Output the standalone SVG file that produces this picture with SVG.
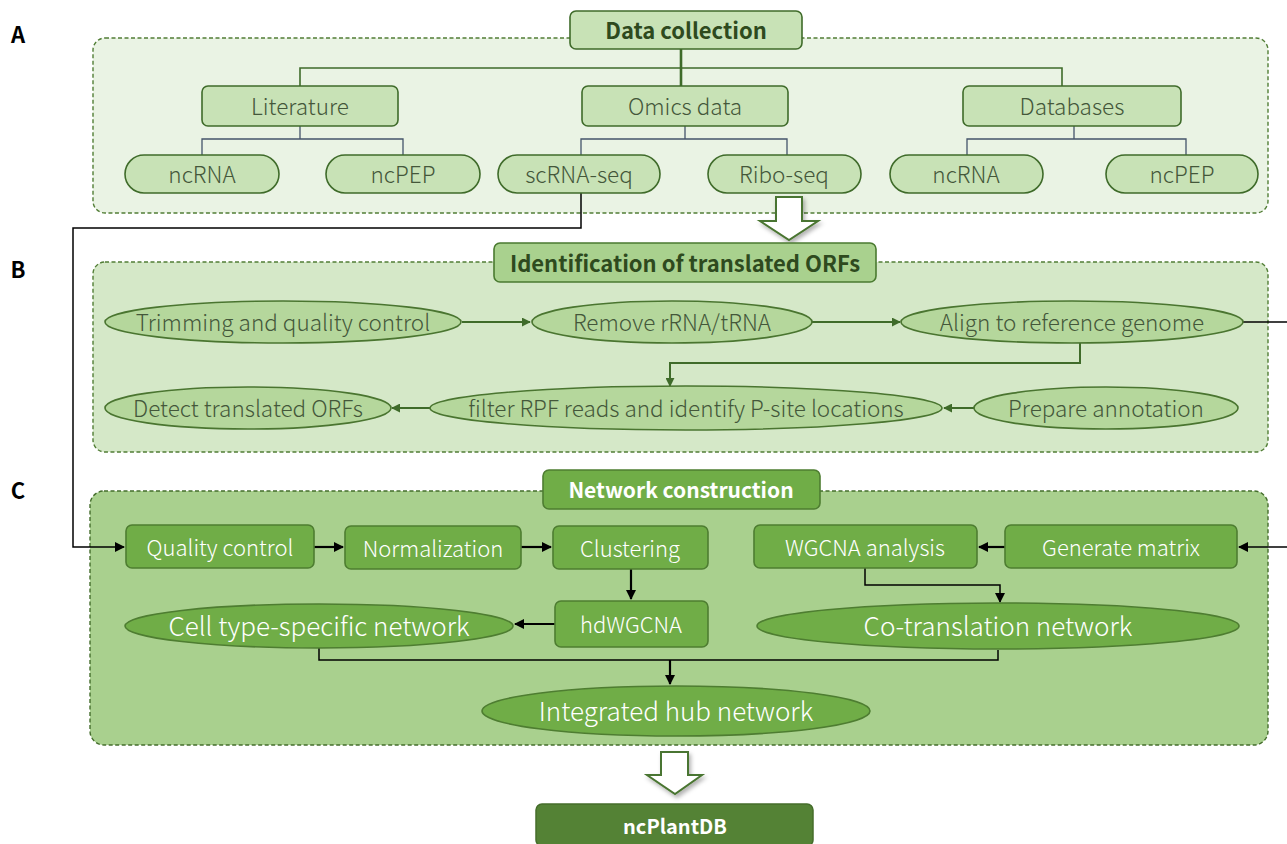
<svg xmlns="http://www.w3.org/2000/svg" width="1287" height="844" viewBox="0 0 1287 844">
<defs>
<style>
text{font-family:"Noto Sans CJK SC","Noto Sans","Liberation Sans",sans-serif;text-anchor:middle;dominant-baseline:central}
.lbl{font-size:22px;font-weight:bold;fill:#000}
.panelA{fill:#eaf3e4;stroke:#527e36;stroke-width:1.4;stroke-dasharray:4 2.5}
.panelB{fill:#d5e8c8;stroke:#527e36;stroke-width:1.4;stroke-dasharray:4 2.5}
.panelC{fill:#a9d08e;stroke:#446d2c;stroke-width:1.4;stroke-dasharray:4 2.5}
.na{fill:#c8e2b6;stroke:#3f6b2a;stroke-width:1.6}
.ta{font-size:22.5px;fill:#44573a;font-weight:300}
.tt{font-size:22px;font-weight:bold;fill:#2e4a1e}
.nb{fill:#b5d79c;stroke:#4a7530;stroke-width:1.6}
.tb{font-size:22.5px;fill:#44573a;font-weight:300}
.titB{fill:#a9d18e;stroke:#4a7a30;stroke-width:1.6}
.nc{fill:#70ad47;stroke:#4e7d31;stroke-width:1.6}
.tc{font-size:22px;fill:#fff;font-weight:300}
.tcl{font-size:26px;fill:#fff;font-weight:300}
.tw{font-size:21px;font-weight:bold;fill:#fff}
.l1{fill:none;stroke:#3f6b2a;stroke-width:1.6}
.l2{fill:none;stroke:#44546a;stroke-width:1.3}
.lg{fill:none;stroke:#3f6b2a;stroke-width:2}
.lk{fill:none;stroke:#000;stroke-width:2.2}
.lk1{fill:none;stroke:#000;stroke-width:1.5}
.blk{fill:#fff;stroke:#4a7530;stroke-width:2;filter:url(#sh)}
</style>
<marker id="ag" viewBox="0 0 10 10" refX="9" refY="5" markerWidth="9" markerHeight="9" markerUnits="userSpaceOnUse" orient="auto"><path d="M0,0 L10,5 L0,10 Z" fill="#3f6b2a"/></marker>
<marker id="ak" viewBox="0 0 10 10" refX="9" refY="5" markerWidth="10" markerHeight="10" markerUnits="userSpaceOnUse" orient="auto"><path d="M0,0 L10,5 L0,10 Z" fill="#000"/></marker>
<filter id="sh" x="-20%" y="-20%" width="150%" height="150%"><feDropShadow dx="2" dy="3" stdDeviation="2" flood-color="#000" flood-opacity="0.3"/></filter>
</defs>
<rect width="1287" height="844" fill="#fff"/>

<g id="labels">
<text class="lbl" x="18" y="33">A</text>
<text class="lbl" x="18" y="268">B</text>
<text class="lbl" x="18" y="489">C</text>
</g>

<g id="panels">
<rect class="panelA" x="93" y="38" width="1175" height="175" rx="12"/>
<rect class="panelB" x="93" y="262" width="1175" height="190" rx="12"/>
<rect class="panelC" x="90" y="491" width="1178" height="254" rx="14"/>
</g>

<g id="connectors">
<path class="l1" d="M300,86 V68 H1062 V86"/>
<path d="M681,49 V86" stroke="#3f6b2a" stroke-width="2.6" fill="none"/>
<path class="l2" d="M202,155 V139 H403 V155 M300,126 V139"/>
<path class="l2" d="M581,155 V139 H787 V155 M685,126 V139"/>
<path class="l2" d="M967,155 V139 H1186 V155 M1074,126 V139"/>
<path class="lg" d="M462,322 H530" marker-end="url(#ag)"/>
<path class="lg" d="M812,322 H900" marker-end="url(#ag)"/>
<path class="lg" d="M1080,343 V363 H670 V386" marker-end="url(#ag)"/>
<path class="lg" d="M974,408 H944" marker-end="url(#ag)"/>
<path class="lg" d="M430,408 H392" marker-end="url(#ag)"/>
<path class="lk1" d="M581,193 V228 H73 V547 H124" marker-end="url(#ak)"/>
<path class="lk1" d="M1243,322 H1290"/>
<path class="lk1" d="M1290,547 H1239" marker-end="url(#ak)"/>
<path class="lk" d="M314,547 H343" marker-end="url(#ak)"/>
<path class="lk" d="M521,547 H551" marker-end="url(#ak)"/>
<path class="lk" d="M1005,547 H979" marker-end="url(#ak)"/>
<path class="lk" d="M631,568 V599" marker-end="url(#ak)"/>
<path class="lk" d="M555,624 H515" marker-end="url(#ak)"/>
<path class="lk1" d="M865,568 V585 H1000 V602" marker-end="url(#ak)"/>
<path class="lk1" d="M319,648 V660 H998 V650"/>
<path class="lk" d="M670,660 V684" marker-end="url(#ak)"/>
</g>

<g id="n-datacollection"><rect class="na" x="570" y="11" width="232" height="38" rx="6"/><text class="tt" x="686" y="29">Data collection</text></g>
<g id="n-literature"><rect class="na" x="202" y="86" width="196" height="40" rx="6"/><text class="ta" x="300" y="105">Literature</text></g>
<g id="n-omics"><rect class="na" x="582" y="86" width="206" height="40" rx="6"/><text class="ta" x="685" y="105">Omics data</text></g>
<g id="n-databases"><rect class="na" x="963" y="86" width="218" height="40" rx="6"/><text class="ta" x="1072" y="105">Databases</text></g>
<g id="n-ncrna1"><rect class="na" x="125" y="155" width="154" height="38" rx="19"/><text class="ta" x="202" y="173">ncRNA</text></g>
<g id="n-ncpep1"><rect class="na" x="326" y="155" width="154" height="38" rx="19"/><text class="ta" x="403" y="173">ncPEP</text></g>
<g id="n-scrnaseq"><rect class="na" x="498" y="155" width="162" height="38" rx="19"/><text class="ta" x="579" y="173">scRNA-seq</text></g>
<g id="n-riboseq"><rect class="na" x="708" y="155" width="153" height="38" rx="19"/><text class="ta" x="784" y="173">Ribo-seq</text></g>
<g id="n-ncrna2"><rect class="na" x="890" y="155" width="153" height="38" rx="19"/><text class="ta" x="966" y="173">ncRNA</text></g>
<g id="n-ncpep2"><rect class="na" x="1106" y="155" width="152" height="38" rx="19"/><text class="ta" x="1182" y="173">ncPEP</text></g>

<g id="arrow-ab"><path class="blk" d="M776,197 H802 V221 H818 L789,240 L760,221 H776 Z"/></g>

<g id="n-titleB"><rect class="titB" x="494" y="243" width="382" height="39" rx="6"/><text class="tt" x="685" y="262">Identification of translated ORFs</text></g>
<g id="n-trim"><ellipse class="nb" cx="283" cy="322" rx="178" ry="21"/><text class="tb" x="283" y="321">Trimming and quality control</text></g>
<g id="n-remove"><ellipse class="nb" cx="672" cy="322" rx="140" ry="21"/><text class="tb" x="672" y="321">Remove rRNA/tRNA</text></g>
<g id="n-align"><ellipse class="nb" cx="1072" cy="322" rx="171" ry="21"/><text class="tb" x="1072" y="321">Align to reference genome</text></g>
<g id="n-detect"><ellipse class="nb" cx="248" cy="408" rx="143" ry="21"/><text class="tb" x="248" y="407">Detect translated ORFs</text></g>
<g id="n-filter"><ellipse class="nb" cx="686" cy="408" rx="256" ry="22"/><text class="tb" x="686" y="407">filter RPF reads and identify P-site locations</text></g>
<g id="n-prepare"><ellipse class="nb" cx="1106" cy="408" rx="132" ry="21"/><text class="tb" x="1106" y="407">Prepare annotation</text></g>

<g id="n-titleC"><rect class="nc" x="543" y="470" width="277" height="39" rx="6"/><text class="tw" x="681" y="489">Network construction</text></g>
<g id="n-qc"><rect class="nc" x="126" y="525" width="188" height="43" rx="6"/><text class="tc" x="220" y="546">Quality control</text></g>
<g id="n-norm"><rect class="nc" x="345" y="526" width="176" height="43" rx="6"/><text class="tc" x="433" y="547">Normalization</text></g>
<g id="n-clust"><rect class="nc" x="553" y="526" width="155" height="43" rx="6"/><text class="tc" x="630" y="547">Clustering</text></g>
<g id="n-wgcna"><rect class="nc" x="754" y="525" width="223" height="43" rx="6"/><text class="tc" x="865" y="546">WGCNA analysis</text></g>
<g id="n-genmat"><rect class="nc" x="1005" y="525" width="232" height="43" rx="6"/><text class="tc" x="1121" y="546">Generate matrix</text></g>
<g id="n-hdwgcna"><rect class="nc" x="555" y="601" width="153" height="46" rx="6"/><text class="tc" x="631" y="623">hdWGCNA</text></g>
<g id="n-celltype"><ellipse class="nc" cx="319" cy="626" rx="194" ry="22"/><text class="tcl" x="319" y="624">Cell type-specific network</text></g>
<g id="n-cotrans"><ellipse class="nc" cx="998" cy="626" rx="241" ry="23"/><text class="tcl" x="998" y="624">Co-translation network</text></g>
<g id="n-integrated"><ellipse class="nc" cx="676" cy="711" rx="194" ry="25"/><text class="tcl" x="676" y="709">Integrated hub network</text></g>

<g id="arrow-out"><path class="blk" d="M661,752 H688 V775 H702 L675,794 L647,775 H661 Z"/></g>
<g id="n-ncplantdb"><rect x="536" y="804" width="277" height="42" rx="6" fill="#548235" stroke="#456d2b" stroke-width="1.5"/><text class="tw" x="675" y="825" style="font-size:20px">ncPlantDB</text></g>
</svg>
